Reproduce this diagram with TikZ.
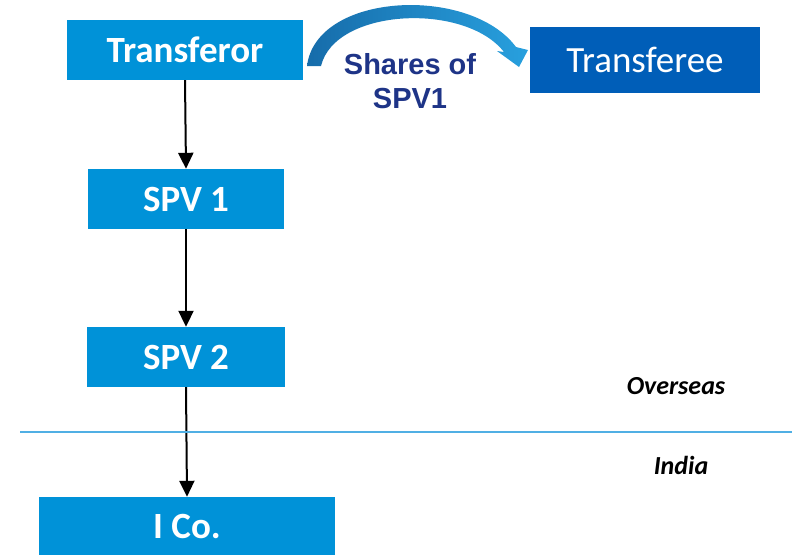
\documentclass[tikz,border=0pt]{standalone}
\usepackage{fontspec}
\setmainfont{Carlito}
\newfontfamily\arialf{Liberation Sans}
\usetikzlibrary{arrows.meta}
\definecolor{boxblue}{RGB}{0,146,216}
\definecolor{darkbox}{RGB}{0,94,184}
\definecolor{navytxt}{RGB}{30,52,135}
\definecolor{sepline}{RGB}{80,175,228}
\definecolor{arcdark}{RGB}{22,108,170}
\definecolor{arclight}{RGB}{40,160,222}
\tikzset{
  box/.style={fill=boxblue, text=white, inner sep=0pt, font=\fontsize{37}{40}\selectfont\bfseries},
  link/.style={draw=black, line width=2pt, -{Triangle[length=16pt,width=15pt]}},
  region/.style={font=\fontsize{26}{28}\selectfont\bfseries\itshape, inner sep=0pt}
}
\begin{document}
\begin{tikzpicture}[x=1pt,y=-1pt]
\useasboundingbox (0,0) rectangle (792,555);
\node[box, minimum width=236pt, minimum height=60pt] (tr) at (185,50) {Transferor};
\node[box, fill=darkbox, minimum width=230pt, minimum height=66pt, font=\fontsize{37}{40}\selectfont] (te) at (645,60) {Transferee};
\node[box, minimum width=196pt, minimum height=60pt] (s1) at (186,199) {SPV 1};
\node[box, minimum width=198pt, minimum height=60pt] (s2) at (186,357) {SPV 2};
\node[box, minimum width=296pt, minimum height=58pt] (ic) at (187,526) {I Co.};
\draw[link] (tr.south) -- (s1.north);
\draw[link] (s1.south) -- (s2.north);
\draw[link] (s2.south) -- (ic.north);
\draw[sepline, line width=2pt] (20,432) -- (792,432);
\node[region] (ov) at (676,386) {Overseas};
\node[region] (in) at (681,465) {India};
\shade[left color=arcdark, right color=arclight]
  (307,66) .. controls (316,-8) and (470,-15) .. (516,47)
  -- (528,50) -- (519,67) -- (497,51) -- (504,52)
  .. controls (465,2) and (335,8) .. (321,66) -- cycle;
\node[align=center, text=navytxt, inner sep=0pt, font=\arialf\bfseries\fontsize{29}{34}\selectfont] (sh) at (410,81) {Shares of\\SPV1};
\end{tikzpicture}
\end{document}
